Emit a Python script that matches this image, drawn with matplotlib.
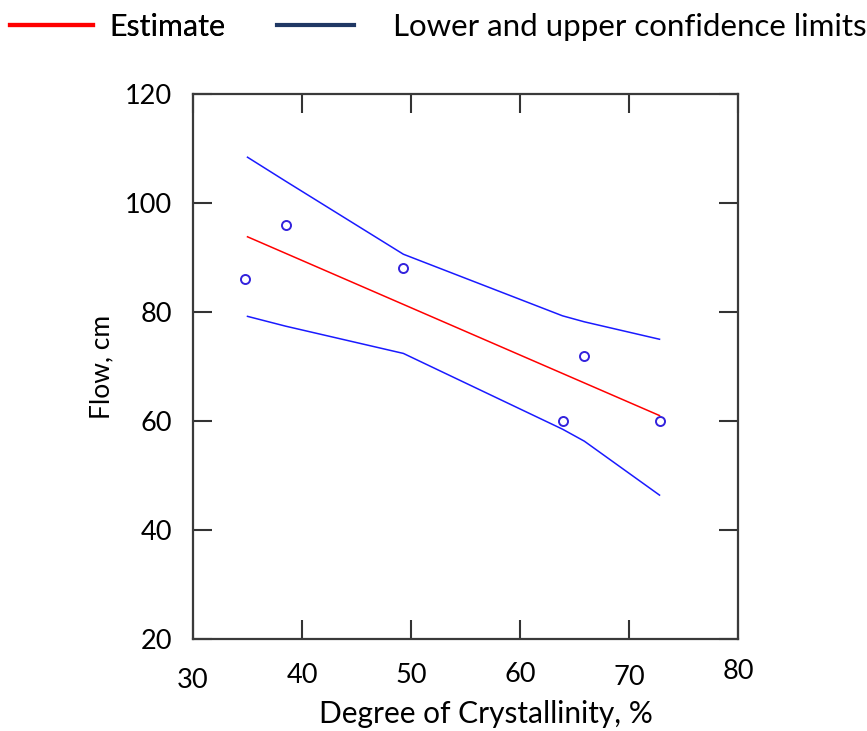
import matplotlib
matplotlib.use("Agg")
import matplotlib.pyplot as plt
from matplotlib.lines import Line2D
from matplotlib.transforms import ScaledTranslation

plt.rcParams['font.family'] = ['Lato', 'DejaVu Sans']

# measured points
cryst = [34.8, 38.5, 49.3, 63.9, 65.9, 72.8]
flow = [86, 96, 88, 60, 72, 60]

# fitted line
est_x = [35.0, 72.8]
est_y = [93.8, 61.0]

# confidence limits, evaluated at the data x values
ci_x = [35.0, 38.5, 49.3, 63.9, 65.9, 72.8]
ci_upper = [108.4, 104.0, 90.6, 79.3, 78.2, 75.0]
ci_lower = [79.2, 77.4, 72.4, 58.5, 56.3, 46.4]

xticks = [30, 40, 50, 60, 70, 80]
yticks = [20, 40, 60, 80, 100, 120]

W, H = 867, 731
fig = plt.figure(figsize=(W / 100, H / 100), dpi=100)
ax = fig.add_axes([193 / W, 1 - 639 / H, 545 / W, 545 / H])

ax.plot(est_x, est_y, color='#ff0000', lw=1.1)
ax.plot(ci_x, ci_upper, color='#1a1aff', lw=1.1)
ax.plot(ci_x, ci_lower, color='#1a1aff', lw=1.1)
ax.plot(cryst, flow, 'o', mfc='none', mec='#3322dd', ms=6.5, mew=1.4)

ax.set_xlim(30, 80)
ax.set_ylim(20, 120)
ax.set_xticks(xticks)
ax.set_yticks(yticks)
ax.tick_params(direction='in', length=13.5, width=1.5, color='#333333',
               labelsize=19.5, top=True, right=True)
ax.tick_params(axis='x', pad=17)
ax.tick_params(axis='y', pad=15)
for s in ax.spines.values():
    s.set_color('#3a3a3a')
    s.set_linewidth(1.6)

# the x labels sit a little unevenly in the original
offs = [5, 0, 0, -1, 2, -4]
for lab, dy in zip(ax.get_xticklabels(), offs):
    lab.set_transform(lab.get_transform() + ScaledTranslation(0, -dy / 100, fig.dpi_scale_trans))

ax.set_xlabel('Degree of Crystallinity, %', fontsize=21.5, labelpad=5)
ax.xaxis.label.set_x(0.5 + 20 / 545)
ax.set_ylabel('Flow, cm', fontsize=19, labelpad=8)

h1 = [Line2D([], [], color='#ff0000', lw=3)]
h2 = [Line2D([], [], color='#203864', lw=3)]
leg1 = fig.legend(h1, ['Estimate'], loc='upper left', bbox_to_anchor=(4 / W, 1 - 7 / H),
                  frameon=False, fontsize=22, handlelength=2.7, handletextpad=0.55,
                  borderpad=0.2, borderaxespad=0)
leg2 = fig.legend(h2, ['Lower and upper confidence limits'], loc='upper left',
                  bbox_to_anchor=(271 / W, 1 - 7 / H), frameon=False, fontsize=22.5,
                  handlelength=2.45, handletextpad=1.25, borderpad=0.2, borderaxespad=0)
fig.add_artist(leg1)

fig.savefig('out.png', dpi=100)
